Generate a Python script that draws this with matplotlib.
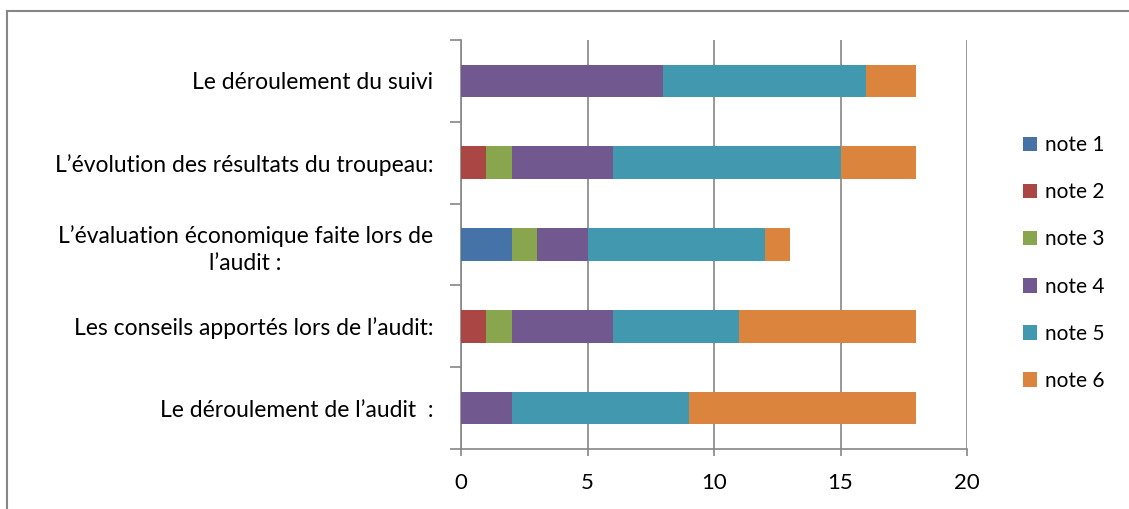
import matplotlib
matplotlib.use("Agg")
from matplotlib import pyplot as plt
from matplotlib.lines import Line2D
import numpy as np

# categories from bottom to top
categories = [
    "Le déroulement de l’audit  :",
    "Les conseils apportés lors de l’audit:",
    "L’évaluation économique faite lors de\nl’audit :",
    "L’évolution des résultats du troupeau:",
    "Le déroulement du suivi",
]
series_names = ["note 1", "note 2", "note 3", "note 4", "note 5", "note 6"]
note1 = [0, 0, 2, 0, 0]
note2 = [0, 1, 0, 1, 0]
note3 = [0, 1, 1, 1, 0]
note4 = [2, 4, 2, 4, 8]
note5 = [7, 5, 7, 9, 8]
note6 = [9, 7, 1, 3, 2]
couleurs = ["#4572A7", "#AA4643", "#89A54E", "#71588F", "#4198AF", "#DB843D"]

plt.rcParams['font.family'] = ['Lato', 'DejaVu Sans']

fig = plt.figure(figsize=(11.29, 5.09), dpi=100)
ax = fig.add_axes([461 / 1129, 1 - 449 / 509, (967 - 461) / 1129, (449 - 40) / 509])

y = np.arange(len(categories))
gauche = np.zeros(len(categories))
for nom, valores, col in zip(series_names, [note1, note2, note3, note4, note5, note6], couleurs):
    ax.barh(y, valores, left=gauche, height=0.4, color=col, label=nom, zorder=3)
    gauche += np.array(valores)

gris = "#868686"
ax.set_xlim(0, 20)
ax.set_ylim(-0.5, len(categories) - 0.5)
ax.set_xticks([0, 5, 10, 15, 20])
ax.tick_params(axis='x', length=5, width=1.2, color=gris, labelsize=16, pad=12)
ax.xaxis.grid(True, color=gris, linewidth=1.2, zorder=0)

# etiquetas de categorias
ax.set_yticks(y)
ax.set_yticklabels(categories, fontsize=16.5, ha='right', multialignment='center', linespacing=1.35)
ax.tick_params(axis='y', length=0, pad=20)
ax.set_yticks(np.arange(-0.5, len(categories)), minor=True)
ax.tick_params(axis='y', which='minor', length=8, width=1.2, color=gris)

for s in ['top', 'right']:
    ax.spines[s].set_visible(False)
ax.spines['left'].set_color(gris)
ax.spines['left'].set_linewidth(1.2)
ax.spines['bottom'].set_color(gris)
ax.spines['bottom'].set_linewidth(1.2)

# leyenda
handles, labels = ax.get_legend_handles_labels()
fig.legend(handles, labels, loc='center left', bbox_to_anchor=(1004 / 1129, 1 - 263 / 509),
           frameon=False, fontsize=15, handlelength=0.7, handleheight=0.7,
           handletextpad=0.35, labelspacing=1.3)

# marco exterior
fig.add_artist(Line2D([7 / 1129, 7 / 1129], [0, 1 - 11 / 509], transform=fig.transFigure,
                      color=gris, linewidth=1.5))
fig.add_artist(Line2D([7 / 1129, 1], [1 - 11 / 509, 1 - 11 / 509], transform=fig.transFigure,
                      color=gris, linewidth=1.5))

fig.savefig("out.png", dpi=100)
